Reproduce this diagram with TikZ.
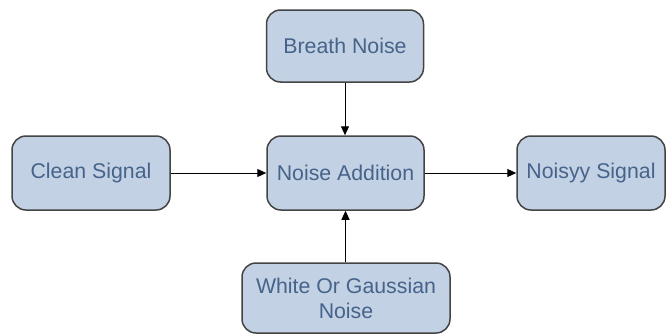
\documentclass[tikz,border=0pt]{standalone}
\usepackage{fontspec}
\setmainfont{Liberation Sans}
\usetikzlibrary{arrows.meta}
\definecolor{boxfill}{HTML}{C3D1E4}
\definecolor{boxline}{HTML}{444444}
\definecolor{boxtext}{HTML}{46638A}
\tikzset{
  block/.style={draw=boxline, line width=1.5pt, fill=boxfill, rounded corners=14pt,
    text=boxtext, font=\fontsize{21.3}{25}\selectfont, align=center,
    inner sep=0pt, minimum height=72pt},
  flow/.style={draw=black, line width=1pt, -{Triangle[length=9pt,width=8pt]}}
}
\begin{document}
\begin{tikzpicture}[x=1pt,y=-1pt]
  \useasboundingbox[fill=white] (0,0) rectangle (666,335);
  % processing blocks
  \node[block, minimum width=157pt] (breath) at (345,46) {Breath Noise};
  \node[block, minimum width=158pt, minimum height=74pt] (clean) at (91,173) {Clean Signal};
  \node[block, minimum width=157pt, minimum height=74pt] (add) at (345.5,173) {Noise Addition};
  \node[block, minimum width=148pt, minimum height=74pt] (noisy) at (591,173) {Noisyy Signal};
  \node[block, minimum width=208pt, minimum height=70pt] (white) at (346,298) {White Or Gaussian\\Noise};
  % signal flow
  \draw[flow] (breath.south) -- (breath.south |- add.north);
  \draw[flow] (clean.east) -- (add.west);
  \draw[flow] (add.east) -- (noisy.west);
  \draw[flow] (white.north -| add.south) -- (add.south);
\end{tikzpicture}
\end{document}
